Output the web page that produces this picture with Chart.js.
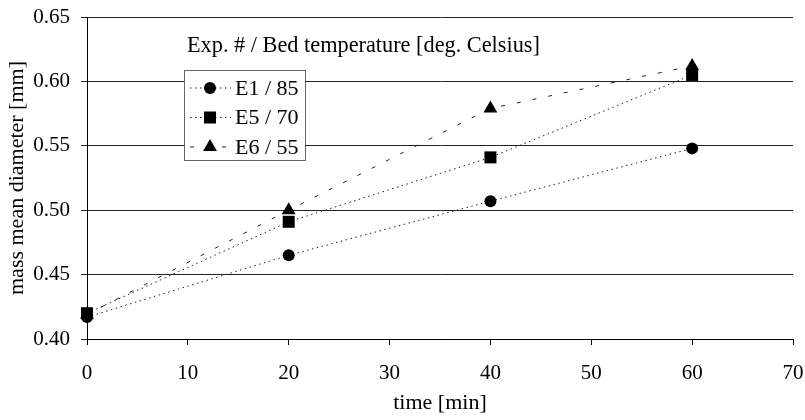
<!DOCTYPE html>
<html>
<head>
<meta charset="utf-8">
<script src="https://cdn.jsdelivr.net/npm/chart.js@4.4.1/dist/chart.umd.min.js"></script>
<style>
  html, body { margin: 0; padding: 0; background: #fff; }
  #wrap { width: 805px; height: 420px; }
</style>
</head>
<body>
<div id="wrap"><canvas id="psd-chart" width="805" height="420"></canvas></div>
<script>
// sampling times [min]
var times = [0, 20, 40, 60];

// mass mean diameter [mm] per experiment
var e1 = [0.417, 0.465, 0.507, 0.548];
var e5 = [0.420, 0.491, 0.541, 0.605];
var e6 = [0.419, 0.500, 0.579, 0.612];

var seriesNames = ['E1 / 85', 'E5 / 70', 'E6 / 55'];
var xTicks = [0, 10, 20, 30, 40, 50, 60, 70];
var yTicks = [0.40, 0.45, 0.50, 0.55, 0.60, 0.65];

var legendTitle = 'Exp. # / Bed temperature [deg. Celsius]';
var serif = '"Liberation Serif", "DejaVu Serif", serif';

function pts(ys) {
  return times.map(function(t, i) { return { x: t, y: ys[i] }; });
}

function drawMarker(ctx, style, r, x, y) {
  ctx.beginPath();
  if (style === 'circle') {
    ctx.arc(x, y, r, 0, Math.PI * 2);
  } else if (style === 'rect') {
    var s = r * Math.SQRT1_2;
    ctx.rect(x - s, y - s, s * 2, s * 2);
  } else {
    ctx.moveTo(x, y - r);
    ctx.lineTo(x + r * 0.866, y + r * 0.5);
    ctx.lineTo(x - r * 0.866, y + r * 0.5);
    ctx.closePath();
  }
  ctx.fill();
}

// boxed legend with a caption above it, drawn inside the plot area
var boxLegend = {
  id: 'boxLegend',
  afterDraw: function(chart) {
    var ctx = chart.ctx;
    ctx.save();
    ctx.font = '22.3px ' + serif;
    ctx.fillStyle = '#000';
    ctx.textBaseline = 'alphabetic';
    ctx.fillText(legendTitle, 187, 52);

    var bx = 184.5, by = 70.5, bw = 121, bh = 90;
    ctx.fillStyle = '#fff';
    ctx.fillRect(bx, by, bw, bh);
    ctx.strokeStyle = '#666';
    ctx.lineWidth = 1;
    ctx.setLineDash([]);
    ctx.strokeRect(bx, by, bw, bh);

    chart.data.datasets.forEach(function(ds, i) {
      var cy = 88 + i * 29.5;
      ctx.strokeStyle = ds.borderColor;
      ctx.lineWidth = 1;
      ctx.setLineDash(ds.borderDash);
      ctx.beginPath();
      ctx.moveTo(190, cy);
      ctx.lineTo(231, cy);
      ctx.stroke();
      ctx.setLineDash([]);
      ctx.fillStyle = '#000';
      drawMarker(ctx, ds.pointStyle, ds.pointRadius, 210, cy);
      ctx.font = '22px ' + serif;
      ctx.textBaseline = 'middle';
      ctx.fillText(ds.label, 235, cy + 1);
    });
    ctx.restore();
  }
};

var config = {
  type: 'line',
  data: {
    datasets: [{
      label: seriesNames[0],
      data: pts(e1),
      borderColor: '#222',
      borderWidth: 1,
      borderDash: [1.5, 3.5],
      pointStyle: 'circle',
      pointRadius: 6,
      backgroundColor: '#000',
      pointBorderWidth: 0
    }, {
      label: seriesNames[1],
      data: pts(e5),
      borderColor: '#222',
      borderWidth: 1,
      borderDash: [1.5, 3.5],
      pointStyle: 'rect',
      pointRadius: 8.5,
      backgroundColor: '#000',
      pointBorderWidth: 0
    }, {
      label: seriesNames[2],
      data: pts(e6),
      borderColor: '#222',
      borderWidth: 1,
      borderDash: [4, 12],
      pointStyle: 'triangle',
      pointRadius: 8,
      backgroundColor: '#000',
      pointBorderWidth: 0
    }]
  },
  options: {
    responsive: false,
    animation: false,
    clip: false,
    layout: { padding: { left: 0, right: 12, top: 17, bottom: 0 } },
    elements: { line: { tension: 0, fill: false } },
    plugins: {
      legend: { display: false },
      tooltip: { enabled: false }
    },
    scales: {
      x: {
        type: 'linear',
        min: 0,
        max: 70,
        afterBuildTicks: function(scale) {
          scale.ticks = xTicks.map(function(v) { return { value: v }; });
        },
        afterFit: function(scale) {
          scale.height = 81;
          // let the last label overhang the right margin
          scale.paddingLeft = 0;
          scale.paddingRight = 0;
        },
        grid: {
          drawOnChartArea: false,
          drawTicks: true,
          tickLength: 6,
          color: '#000'
        },
        border: { color: '#000', width: 1 },
        ticks: {
          color: '#000',
          padding: 16,
          font: { family: serif, size: 21 }
        },
        title: {
          display: true,
          text: 'time [min]',
          color: '#000',
          padding: { top: 4, bottom: 4 },
          font: { family: serif, size: 22 }
        }
      },
      y: {
        min: 0.4,
        max: 0.65,
        afterBuildTicks: function(scale) {
          scale.ticks = yTicks.map(function(v) { return { value: v }; });
        },
        afterFit: function(scale) {
          scale.width = 87;
          scale.paddingTop = 0;
          scale.paddingBottom = 0;
        },
        grid: {
          drawTicks: true,
          tickLength: 6,
          color: '#222'
        },
        border: { color: '#000', width: 1 },
        ticks: {
          color: '#000',
          padding: 11,
          font: { family: serif, size: 21 },
          callback: function(v) { return Number(v).toFixed(2); }
        },
        title: {
          display: true,
          text: 'mass mean diameter [mm]',
          color: '#000',
          padding: { top: 4, bottom: 4 },
          font: { family: serif, size: 22 }
        }
      }
    }
  },
  plugins: [boxLegend]
};

var ctx = document.getElementById('psd-chart').getContext('2d');
window.psdChart = new Chart(ctx, config);
</script>
</body>
</html>
